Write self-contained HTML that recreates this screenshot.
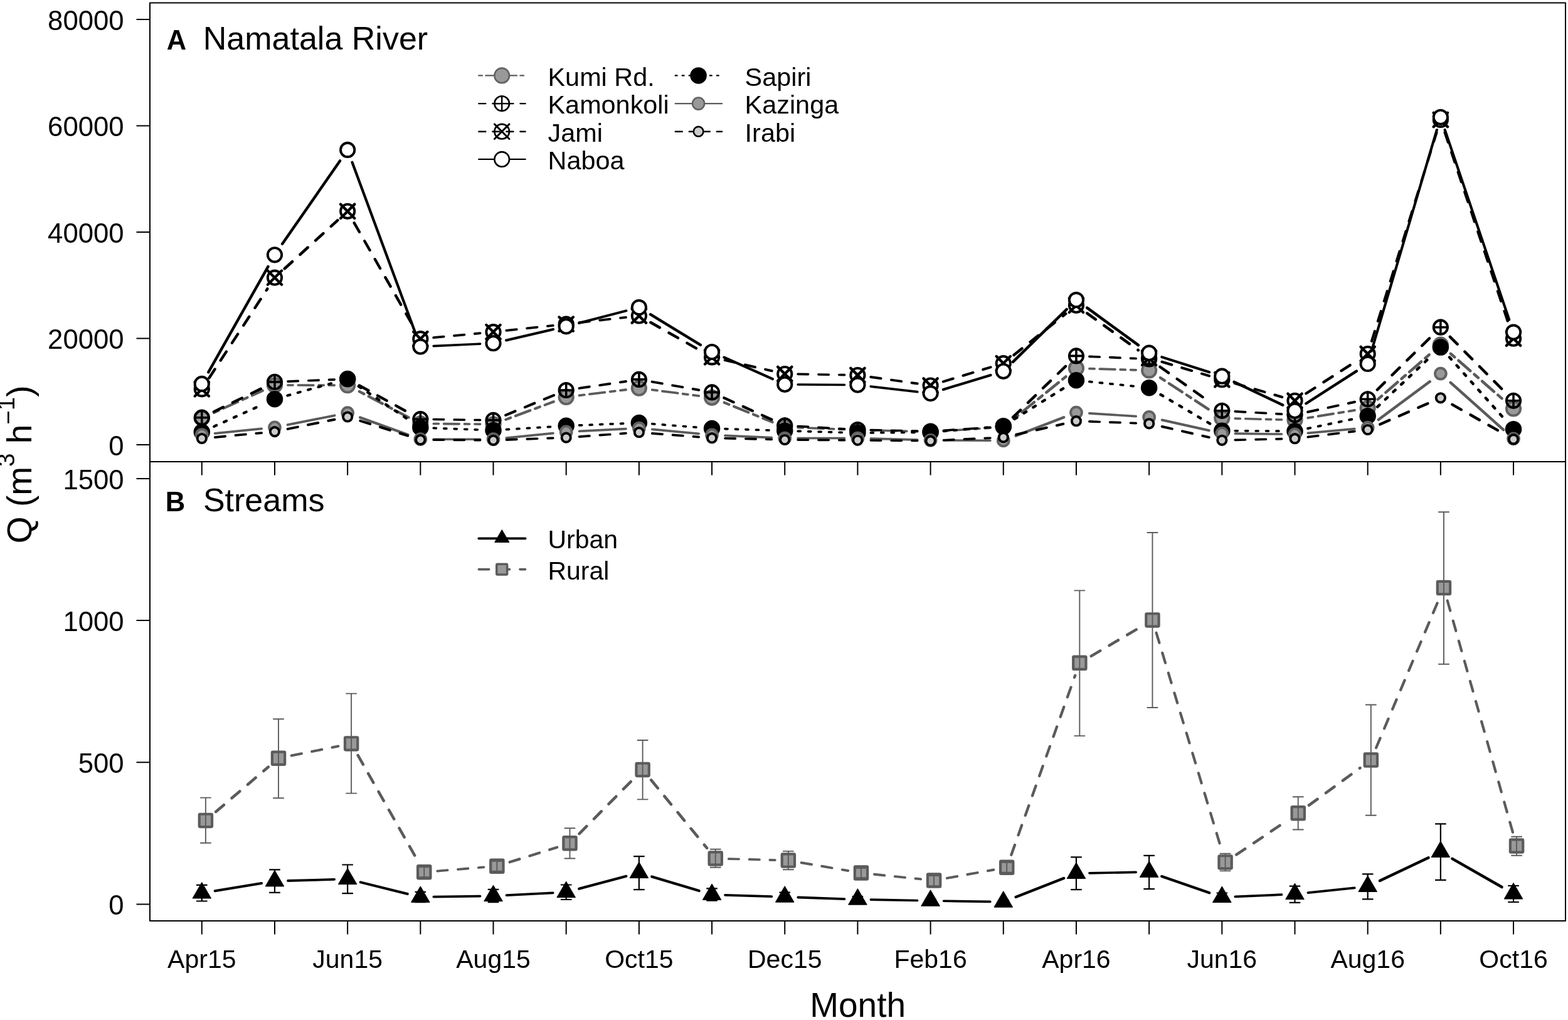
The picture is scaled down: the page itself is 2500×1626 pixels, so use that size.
<!DOCTYPE html>
<html lang="en"><head><meta charset="utf-8"><title>Discharge: Namatala River and streams</title>
<style>html,body{margin:0;padding:0;background:#fff}svg{display:block}text{font-family:'Liberation Sans', sans-serif;fill:#000}</style>
</head><body>
<svg width="2500" height="1626" viewBox="0 0 2500 1626">
<rect width="2500" height="1626" fill="#fff"/>
<g id="panelA">
<path d="M458.88 614.04L533.26 614.16M691.24 675.48L765.62 676.12" fill="none" stroke="#5b5b5b" stroke-width="3.6" stroke-linecap="round" stroke-dasharray="8.2 8.2 24.6 8.2"/>
<path d="M1388.31 685.86L1462.71 687.84M1969.21 667.14L2043.61 669.06" fill="none" stroke="#5b5b5b" stroke-width="3.6" stroke-linecap="round" stroke-dasharray="8.21 8.21 24.62 8.21"/>
<path d="M1272.17 681.61L1346.49 684.49M1736.9 587.69L1811.2 589.81" fill="none" stroke="#5b5b5b" stroke-width="3.7" stroke-linecap="round" stroke-dasharray="8.21 8.21 24.62 8.21"/>
<path d="M1504.51 687.03L1578.87 682.17" fill="none" stroke="#5b5b5b" stroke-width="3.7" stroke-linecap="round" stroke-dasharray="8.22 8.22 24.65 8.22"/>
<path d="M923.54 630.35L998.04 621.25M1039.7 621.41L1114.24 631.09" fill="none" stroke="#5b5b5b" stroke-width="3.8" stroke-linecap="round" stroke-dasharray="8.24 8.24 24.72 8.24"/>
<path d="M2085.27 666.2L2159.91 654" fill="none" stroke="#5b5b5b" stroke-width="3.9" stroke-linecap="round" stroke-dasharray="8.25 8.25 24.75 8.25"/>
<path d="M806.38 668.88L882.84 640.32" fill="none" stroke="#5b5b5b" stroke-width="4.2" stroke-linecap="round" stroke-dasharray="8.31 8.31 24.94 8.31"/>
<path d="M1154.71 641.75L1231.59 672.85" fill="none" stroke="#5b5b5b" stroke-width="4.2" stroke-linecap="round" stroke-dasharray="8.32 8.32 24.97 8.32"/>
<path d="M341.16 657.75L418.62 622.75M572.97 624.09L651.53 665.41" fill="none" stroke="#5b5b5b" stroke-width="4.3" stroke-linecap="round" stroke-dasharray="8.34 8.34 25.02 8.34"/>
<path d="M1849.95 602.08L1930.51 654.92" fill="none" stroke="#5b5b5b" stroke-width="4.4" stroke-linecap="round" stroke-dasharray="8.34 8.34 25.02 8.34"/>
<path d="M1616.4 667.4L1699.34 600.5M2196.8 636.6L2280.74 563.7M2312.92 563.76L2396.98 637.34" fill="none" stroke="#5b5b5b" stroke-width="4.5" stroke-linecap="round" stroke-dasharray="8.34 8.34 25.02 8.34"/>
<circle cx="321.8" cy="666.5" r="11.15" fill="#999999" stroke="#626262" stroke-width="3.9"/><circle cx="437.98" cy="614" r="11.15" fill="#999999" stroke="#626262" stroke-width="3.9"/><circle cx="554.16" cy="614.2" r="11.15" fill="#999999" stroke="#626262" stroke-width="3.9"/><circle cx="670.34" cy="675.3" r="11.15" fill="#999999" stroke="#626262" stroke-width="3.9"/><circle cx="786.52" cy="676.3" r="11.15" fill="#999999" stroke="#626262" stroke-width="3.9"/><circle cx="902.7" cy="632.9" r="11.15" fill="#999999" stroke="#626262" stroke-width="3.9"/><circle cx="1018.88" cy="618.7" r="11.15" fill="#999999" stroke="#626262" stroke-width="3.9"/><circle cx="1135.06" cy="633.8" r="11.15" fill="#999999" stroke="#626262" stroke-width="3.9"/><circle cx="1251.24" cy="680.8" r="11.15" fill="#999999" stroke="#626262" stroke-width="3.9"/><circle cx="1367.42" cy="685.3" r="11.15" fill="#999999" stroke="#626262" stroke-width="3.9"/><circle cx="1483.6" cy="688.4" r="11.15" fill="#999999" stroke="#626262" stroke-width="3.9"/><circle cx="1599.78" cy="680.8" r="11.15" fill="#999999" stroke="#626262" stroke-width="3.9"/><circle cx="1715.96" cy="587.1" r="11.15" fill="#999999" stroke="#626262" stroke-width="3.9"/><circle cx="1832.14" cy="590.4" r="11.15" fill="#999999" stroke="#626262" stroke-width="3.9"/><circle cx="1948.32" cy="666.6" r="11.15" fill="#999999" stroke="#626262" stroke-width="3.9"/><circle cx="2064.5" cy="669.6" r="11.15" fill="#999999" stroke="#626262" stroke-width="3.9"/><circle cx="2180.68" cy="650.6" r="11.15" fill="#999999" stroke="#626262" stroke-width="3.9"/><circle cx="2296.86" cy="549.7" r="11.15" fill="#999999" stroke="#626262" stroke-width="3.9"/><circle cx="2413.04" cy="651.4" r="11.15" fill="#999999" stroke="#626262" stroke-width="3.9"/>
<path d="M691.24 668.51L765.62 669.59M1388.31 685.47L1462.71 687.13" fill="none" stroke="#000" stroke-width="3.6" stroke-linecap="round" stroke-dasharray="16.42 16.42"/>
<path d="M458.91 608.05L533.23 605.05M1272.16 679.51L1346.5 683.79M1504.51 686.23L1578.87 681.37M1736.89 568.3L1811.21 571.5M1969.24 655.95L2043.58 660.05" fill="none" stroke="#000" stroke-width="3.7" stroke-linecap="round" stroke-dasharray="16.43 16.43"/>
<path d="M923.53 618.93L998.05 607.97" fill="none" stroke="#000" stroke-width="3.9" stroke-linecap="round" stroke-dasharray="16.5 16.5"/>
<path d="M1039.61 608.56L1114.33 621.74" fill="none" stroke="#000" stroke-width="3.9" stroke-linecap="round" stroke-dasharray="16.51 16.51"/>
<path d="M2085.13 656.78L2160.05 640.72" fill="none" stroke="#000" stroke-width="4" stroke-linecap="round" stroke-dasharray="16.53 16.53"/>
<path d="M806.12 661.82L883.1 630.08" fill="none" stroke="#000" stroke-width="4.2" stroke-linecap="round" stroke-dasharray="16.66 16.66"/>
<path d="M340.89 656.37L418.89 618.23M1154.4 634.21L1231.9 669.49" fill="none" stroke="#000" stroke-width="4.3" stroke-linecap="round" stroke-dasharray="16.68 16.68"/>
<path d="M572.82 614.48L651.68 657.92M1849.51 584.72L1930.95 642.48" fill="none" stroke="#000" stroke-width="4.4" stroke-linecap="round" stroke-dasharray="16.68 16.68"/>
<path d="M1615.11 665.14L1700.63 582.26M2195.88 621.31L2281.66 536.69M2311.9 536.86L2398 623.64" fill="none" stroke="#000" stroke-width="4.5" stroke-linecap="round" stroke-dasharray="16.68 16.68"/>
<circle cx="321.8" cy="665.7" r="11.15" fill="none" stroke="#000" stroke-width="3.9"/><path d="M310.65 665.7H332.95M321.8 654.55V676.85" stroke="#000" stroke-width="3.59" stroke-linecap="round" fill="none"/><circle cx="437.98" cy="608.9" r="11.15" fill="none" stroke="#000" stroke-width="3.9"/><path d="M426.83 608.9H449.13M437.98 597.75V620.05" stroke="#000" stroke-width="3.59" stroke-linecap="round" fill="none"/><circle cx="554.16" cy="604.2" r="11.15" fill="none" stroke="#000" stroke-width="3.9"/><path d="M543.01 604.2H565.31M554.16 593.05V615.35" stroke="#000" stroke-width="3.59" stroke-linecap="round" fill="none"/><circle cx="670.34" cy="668.2" r="11.15" fill="none" stroke="#000" stroke-width="3.9"/><path d="M659.19 668.2H681.49M670.34 657.05V679.35" stroke="#000" stroke-width="3.59" stroke-linecap="round" fill="none"/><circle cx="786.52" cy="669.9" r="11.15" fill="none" stroke="#000" stroke-width="3.9"/><path d="M775.37 669.9H797.67M786.52 658.75V681.05" stroke="#000" stroke-width="3.59" stroke-linecap="round" fill="none"/><circle cx="902.7" cy="622" r="11.15" fill="none" stroke="#000" stroke-width="3.9"/><path d="M891.55 622H913.85M902.7 610.85V633.15" stroke="#000" stroke-width="3.59" stroke-linecap="round" fill="none"/><circle cx="1018.88" cy="604.9" r="11.15" fill="none" stroke="#000" stroke-width="3.9"/><path d="M1007.73 604.9H1030.03M1018.88 593.75V616.05" stroke="#000" stroke-width="3.59" stroke-linecap="round" fill="none"/><circle cx="1135.06" cy="625.4" r="11.15" fill="none" stroke="#000" stroke-width="3.9"/><path d="M1123.91 625.4H1146.21M1135.06 614.25V636.55" stroke="#000" stroke-width="3.59" stroke-linecap="round" fill="none"/><circle cx="1251.24" cy="678.3" r="11.15" fill="none" stroke="#000" stroke-width="3.9"/><path d="M1240.09 678.3H1262.39M1251.24 667.15V689.45" stroke="#000" stroke-width="3.59" stroke-linecap="round" fill="none"/><circle cx="1367.42" cy="685" r="11.15" fill="none" stroke="#000" stroke-width="3.9"/><path d="M1356.27 685H1378.57M1367.42 673.85V696.15" stroke="#000" stroke-width="3.59" stroke-linecap="round" fill="none"/><circle cx="1483.6" cy="687.6" r="11.15" fill="none" stroke="#000" stroke-width="3.9"/><path d="M1472.45 687.6H1494.75M1483.6 676.45V698.75" stroke="#000" stroke-width="3.59" stroke-linecap="round" fill="none"/><circle cx="1599.78" cy="680" r="11.15" fill="none" stroke="#000" stroke-width="3.9"/><path d="M1588.63 680H1610.93M1599.78 668.85V691.15" stroke="#000" stroke-width="3.59" stroke-linecap="round" fill="none"/><circle cx="1715.96" cy="567.4" r="11.15" fill="none" stroke="#000" stroke-width="3.9"/><path d="M1704.81 567.4H1727.11M1715.96 556.25V578.55" stroke="#000" stroke-width="3.59" stroke-linecap="round" fill="none"/><circle cx="1832.14" cy="572.4" r="11.15" fill="none" stroke="#000" stroke-width="3.9"/><path d="M1820.99 572.4H1843.29M1832.14 561.25V583.55" stroke="#000" stroke-width="3.59" stroke-linecap="round" fill="none"/><circle cx="1948.32" cy="654.8" r="11.15" fill="none" stroke="#000" stroke-width="3.9"/><path d="M1937.17 654.8H1959.47M1948.32 643.65V665.95" stroke="#000" stroke-width="3.59" stroke-linecap="round" fill="none"/><circle cx="2064.5" cy="661.2" r="11.15" fill="none" stroke="#000" stroke-width="3.9"/><path d="M2053.35 661.2H2075.65M2064.5 650.05V672.35" stroke="#000" stroke-width="3.59" stroke-linecap="round" fill="none"/><circle cx="2180.68" cy="636.3" r="11.15" fill="none" stroke="#000" stroke-width="3.9"/><path d="M2169.53 636.3H2191.83M2180.68 625.15V647.45" stroke="#000" stroke-width="3.59" stroke-linecap="round" fill="none"/><circle cx="2296.86" cy="521.7" r="11.15" fill="none" stroke="#000" stroke-width="3.9"/><path d="M2285.71 521.7H2308.01M2296.86 510.55V532.85" stroke="#000" stroke-width="3.59" stroke-linecap="round" fill="none"/><circle cx="2413.04" cy="638.8" r="11.15" fill="none" stroke="#000" stroke-width="3.9"/><path d="M2401.89 638.8H2424.19M2413.04 627.65V649.95" stroke="#000" stroke-width="3.59" stroke-linecap="round" fill="none"/>
<path d="M1272.14 596.36L1346.52 597.64" fill="none" stroke="#000" stroke-width="3.6" stroke-linecap="round" stroke-dasharray="16.42 16.42"/>
<path d="M691.25 538.22L765.61 531.18M807.4 526.94L881.82 518.86M923.57 514.25L998.01 505.85" fill="none" stroke="#000" stroke-width="3.8" stroke-linecap="round" stroke-dasharray="16.47 16.47"/>
<path d="M1388.26 600.96L1462.76 611.54" fill="none" stroke="#000" stroke-width="3.9" stroke-linecap="round" stroke-dasharray="16.48 16.48"/>
<path d="M1155.63 574.11L1230.67 591.29" fill="none" stroke="#000" stroke-width="4" stroke-linecap="round" stroke-dasharray="16.55 16.55"/>
<path d="M1503.84 608.35L1579.54 585.35M1852.42 576.8L1928.04 599.2M1968.64 611.08L2044.18 632.92" fill="none" stroke="#000" stroke-width="4.1" stroke-linecap="round" stroke-dasharray="16.58 16.58"/>
<path d="M2186.97 543.81L2290.57 211.19M2303.55 211.07L2406.35 519.63" fill="none" stroke="#000" stroke-width="4.1" stroke-linecap="round" stroke-dasharray="16.68 16.68"/>
<path d="M333.46 602.47L426.32 460.43M564.72 355.3L659.78 521.7M1037.41 514.01L1116.53 558.89M2082.41 627.27L2162.77 575.53" fill="none" stroke="#000" stroke-width="4.4" stroke-linecap="round" stroke-dasharray="16.68 16.68"/>
<path d="M453.77 428.22L538.37 351.18M1616.49 565.91L1699.25 500.09M1733.26 499.31L1814.84 558.29" fill="none" stroke="#000" stroke-width="4.5" stroke-linecap="round" stroke-dasharray="16.68 16.68"/>
<circle cx="321.8" cy="620.3" r="11.15" fill="none" stroke="#000" stroke-width="3.9"/><path d="M310.65 609.15L332.95 631.45M310.65 631.45L332.95 609.15" stroke="#000" stroke-width="4.37" stroke-linecap="round" fill="none"/><circle cx="437.98" cy="442.6" r="11.15" fill="none" stroke="#000" stroke-width="3.9"/><path d="M426.83 431.45L449.13 453.75M426.83 453.75L449.13 431.45" stroke="#000" stroke-width="4.37" stroke-linecap="round" fill="none"/><circle cx="554.16" cy="336.8" r="11.15" fill="none" stroke="#000" stroke-width="3.9"/><path d="M543.01 325.65L565.31 347.95M543.01 347.95L565.31 325.65" stroke="#000" stroke-width="4.37" stroke-linecap="round" fill="none"/><circle cx="670.34" cy="540.2" r="11.15" fill="none" stroke="#000" stroke-width="3.9"/><path d="M659.19 529.05L681.49 551.35M659.19 551.35L681.49 529.05" stroke="#000" stroke-width="4.37" stroke-linecap="round" fill="none"/><circle cx="786.52" cy="529.2" r="11.15" fill="none" stroke="#000" stroke-width="3.9"/><path d="M775.37 518.05L797.67 540.35M775.37 540.35L797.67 518.05" stroke="#000" stroke-width="4.37" stroke-linecap="round" fill="none"/><circle cx="902.7" cy="516.6" r="11.15" fill="none" stroke="#000" stroke-width="3.9"/><path d="M891.55 505.45L913.85 527.75M891.55 527.75L913.85 505.45" stroke="#000" stroke-width="4.37" stroke-linecap="round" fill="none"/><circle cx="1018.88" cy="503.5" r="11.15" fill="none" stroke="#000" stroke-width="3.9"/><path d="M1007.73 492.35L1030.03 514.65M1007.73 514.65L1030.03 492.35" stroke="#000" stroke-width="4.37" stroke-linecap="round" fill="none"/><circle cx="1135.06" cy="569.4" r="11.15" fill="none" stroke="#000" stroke-width="3.9"/><path d="M1123.91 558.25L1146.21 580.55M1123.91 580.55L1146.21 558.25" stroke="#000" stroke-width="4.37" stroke-linecap="round" fill="none"/><circle cx="1251.24" cy="596" r="11.15" fill="none" stroke="#000" stroke-width="3.9"/><path d="M1240.09 584.85L1262.39 607.15M1240.09 607.15L1262.39 584.85" stroke="#000" stroke-width="4.37" stroke-linecap="round" fill="none"/><circle cx="1367.42" cy="598" r="11.15" fill="none" stroke="#000" stroke-width="3.9"/><path d="M1356.27 586.85L1378.57 609.15M1356.27 609.15L1378.57 586.85" stroke="#000" stroke-width="4.37" stroke-linecap="round" fill="none"/><circle cx="1483.6" cy="614.5" r="11.15" fill="none" stroke="#000" stroke-width="3.9"/><path d="M1472.45 603.35L1494.75 625.65M1472.45 625.65L1494.75 603.35" stroke="#000" stroke-width="4.37" stroke-linecap="round" fill="none"/><circle cx="1599.78" cy="579.2" r="11.15" fill="none" stroke="#000" stroke-width="3.9"/><path d="M1588.63 568.05L1610.93 590.35M1588.63 590.35L1610.93 568.05" stroke="#000" stroke-width="4.37" stroke-linecap="round" fill="none"/><circle cx="1715.96" cy="486.8" r="11.15" fill="none" stroke="#000" stroke-width="3.9"/><path d="M1704.81 475.65L1727.11 497.95M1704.81 497.95L1727.11 475.65" stroke="#000" stroke-width="4.37" stroke-linecap="round" fill="none"/><circle cx="1832.14" cy="570.8" r="11.15" fill="none" stroke="#000" stroke-width="3.9"/><path d="M1820.99 559.65L1843.29 581.95M1820.99 581.95L1843.29 559.65" stroke="#000" stroke-width="4.37" stroke-linecap="round" fill="none"/><circle cx="1948.32" cy="605.2" r="11.15" fill="none" stroke="#000" stroke-width="3.9"/><path d="M1937.17 594.05L1959.47 616.35M1937.17 616.35L1959.47 594.05" stroke="#000" stroke-width="4.37" stroke-linecap="round" fill="none"/><circle cx="2064.5" cy="638.8" r="11.15" fill="none" stroke="#000" stroke-width="3.9"/><path d="M2053.35 627.65L2075.65 649.95M2053.35 649.95L2075.65 627.65" stroke="#000" stroke-width="4.37" stroke-linecap="round" fill="none"/><circle cx="2180.68" cy="564" r="11.15" fill="none" stroke="#000" stroke-width="3.9"/><path d="M2169.53 552.85L2191.83 575.15M2169.53 575.15L2191.83 552.85" stroke="#000" stroke-width="4.37" stroke-linecap="round" fill="none"/><circle cx="2296.86" cy="191" r="11.15" fill="none" stroke="#000" stroke-width="3.9"/><path d="M2285.71 179.85L2308.01 202.15M2285.71 202.15L2308.01 179.85" stroke="#000" stroke-width="4.37" stroke-linecap="round" fill="none"/><circle cx="2413.04" cy="539.7" r="11.15" fill="none" stroke="#000" stroke-width="3.9"/><path d="M2401.89 528.55L2424.19 550.85M2401.89 550.85L2424.19 528.55" stroke="#000" stroke-width="4.37" stroke-linecap="round" fill="none"/>
<path d="M1272.14 612.94L1346.52 613.46" fill="none" stroke="#000" stroke-width="3.6" stroke-linecap="round"/>
<path d="M691.27 551.63L765.59 548.17" fill="none" stroke="#000" stroke-width="3.7" stroke-linecap="round"/>
<path d="M1388.28 616.02L1462.74 624.68" fill="none" stroke="#000" stroke-width="3.8" stroke-linecap="round"/>
<path d="M807.08 542.44L882.14 525.06M923.12 514.99L998.46 495.41" fill="none" stroke="#000" stroke-width="4" stroke-linecap="round"/>
<path d="M1503.84 620.95L1579.54 597.95M1852.29 569.12L1928.17 593.28M2186.67 559.72L2290.87 207.08M2303.65 206.83L2406.25 509.57" fill="none" stroke="#000" stroke-width="4.1" stroke-linecap="round"/>
<path d="M561.52 258.78L662.98 532.72" fill="none" stroke="#000" stroke-width="4.2" stroke-linecap="round"/>
<path d="M1154.47 569.65L1231.83 604.15M1967.52 608.81L2045.3 645.69" fill="none" stroke="#000" stroke-width="4.3" stroke-linecap="round"/>
<path d="M332.28 593.36L427.5 424.84M450.12 388.8L542.02 256.4M1037.06 501.2L1116.88 549.9M2082.41 643.27L2162.77 591.53" fill="none" stroke="#000" stroke-width="4.4" stroke-linecap="round"/>
<path d="M1615.04 576.87L1700.7 493.03M1733.22 490.67L1814.88 550.13" fill="none" stroke="#000" stroke-width="4.5" stroke-linecap="round"/>
<circle cx="321.8" cy="611.9" r="11.15" fill="#fff" stroke="#000" stroke-width="3.9"/><circle cx="437.98" cy="406.3" r="11.15" fill="#fff" stroke="#000" stroke-width="3.9"/><circle cx="554.16" cy="238.9" r="11.15" fill="#fff" stroke="#000" stroke-width="3.9"/><circle cx="670.34" cy="552.6" r="11.15" fill="#fff" stroke="#000" stroke-width="3.9"/><circle cx="786.52" cy="547.2" r="11.15" fill="#fff" stroke="#000" stroke-width="3.9"/><circle cx="902.7" cy="520.3" r="11.15" fill="#fff" stroke="#000" stroke-width="3.9"/><circle cx="1018.88" cy="490.1" r="11.15" fill="#fff" stroke="#000" stroke-width="3.9"/><circle cx="1135.06" cy="561" r="11.15" fill="#fff" stroke="#000" stroke-width="3.9"/><circle cx="1251.24" cy="612.8" r="11.15" fill="#fff" stroke="#000" stroke-width="3.9"/><circle cx="1367.42" cy="613.6" r="11.15" fill="#fff" stroke="#000" stroke-width="3.9"/><circle cx="1483.6" cy="627.1" r="11.15" fill="#fff" stroke="#000" stroke-width="3.9"/><circle cx="1599.78" cy="591.8" r="11.15" fill="#fff" stroke="#000" stroke-width="3.9"/><circle cx="1715.96" cy="478.1" r="11.15" fill="#fff" stroke="#000" stroke-width="3.9"/><circle cx="1832.14" cy="562.7" r="11.15" fill="#fff" stroke="#000" stroke-width="3.9"/><circle cx="1948.32" cy="599.7" r="11.15" fill="#fff" stroke="#000" stroke-width="3.9"/><circle cx="2064.5" cy="654.8" r="11.15" fill="#fff" stroke="#000" stroke-width="3.9"/><circle cx="2180.68" cy="580" r="11.15" fill="#fff" stroke="#000" stroke-width="3.9"/><circle cx="2296.86" cy="186.8" r="11.15" fill="#fff" stroke="#000" stroke-width="3.9"/><circle cx="2413.04" cy="529.6" r="11.15" fill="#fff" stroke="#000" stroke-width="3.9"/>
<path d="M1388.32 689.94L1462.7 689.36M1969.22 686.81L2043.6 687.19" fill="none" stroke="#000" stroke-width="3.6" stroke-linecap="round" stroke-dasharray="4.1 12.31"/>
<path d="M1156 683.67L1230.3 686.03M1272.18 687.31L1346.48 689.49" fill="none" stroke="#000" stroke-width="3.7" stroke-linecap="round" stroke-dasharray="4.12 12.35"/>
<path d="M691.28 682.46L765.58 685.14M923.63 677.95L997.95 674.95" fill="none" stroke="#000" stroke-width="3.7" stroke-linecap="round" stroke-dasharray="4.12 12.36"/>
<path d="M807.43 684.62L881.79 680.08" fill="none" stroke="#000" stroke-width="3.7" stroke-linecap="round" stroke-dasharray="4.13 12.4"/>
<path d="M1039.77 675.7L1114.17 681.4" fill="none" stroke="#000" stroke-width="3.7" stroke-linecap="round" stroke-dasharray="4.14 12.42"/>
<path d="M1504.52 687.4L1578.86 681" fill="none" stroke="#000" stroke-width="3.8" stroke-linecap="round" stroke-dasharray="4.15 12.44"/>
<path d="M1736.85 608.36L1811.25 616.04" fill="none" stroke="#000" stroke-width="3.8" stroke-linecap="round" stroke-dasharray="4.16 12.47"/>
<path d="M2085.16 683.01L2160.02 667.49" fill="none" stroke="#000" stroke-width="4" stroke-linecap="round" stroke-dasharray="4.21 12.64"/>
<path d="M458.36 630.55L533.78 609.65" fill="none" stroke="#000" stroke-width="4.1" stroke-linecap="round" stroke-dasharray="4.25 12.76"/>
<path d="M341.17 679.86L418.61 644.94" fill="none" stroke="#000" stroke-width="4.3" stroke-linecap="round" stroke-dasharray="4.35 13.04"/>
<path d="M571.87 615.84L652.63 669.86M1617.82 667.87L1697.92 617.53M1850.49 629.02L1929.97 675.88" fill="none" stroke="#000" stroke-width="4.4" stroke-linecap="round" stroke-dasharray="4.35 13.04"/>
<path d="M2196.21 648.55L2281.33 568.25M2311.05 569.55L2398.85 668.25" fill="none" stroke="#000" stroke-width="4.5" stroke-linecap="round" stroke-dasharray="4.35 13.04"/>
<circle cx="321.8" cy="688.6" r="11.3" fill="#000" stroke="#000" stroke-width="3.9"/><circle cx="437.98" cy="636.2" r="11.3" fill="#000" stroke="#000" stroke-width="3.9"/><circle cx="554.16" cy="604" r="11.3" fill="#000" stroke="#000" stroke-width="3.9"/><circle cx="670.34" cy="681.7" r="11.3" fill="#000" stroke="#000" stroke-width="3.9"/><circle cx="786.52" cy="685.9" r="11.3" fill="#000" stroke="#000" stroke-width="3.9"/><circle cx="902.7" cy="678.8" r="11.3" fill="#000" stroke="#000" stroke-width="3.9"/><circle cx="1018.88" cy="674.1" r="11.3" fill="#000" stroke="#000" stroke-width="3.9"/><circle cx="1135.06" cy="683" r="11.3" fill="#000" stroke="#000" stroke-width="3.9"/><circle cx="1251.24" cy="686.7" r="11.3" fill="#000" stroke="#000" stroke-width="3.9"/><circle cx="1367.42" cy="690.1" r="11.3" fill="#000" stroke="#000" stroke-width="3.9"/><circle cx="1483.6" cy="689.2" r="11.3" fill="#000" stroke="#000" stroke-width="3.9"/><circle cx="1599.78" cy="679.2" r="11.3" fill="#000" stroke="#000" stroke-width="3.9"/><circle cx="1715.96" cy="606.2" r="11.3" fill="#000" stroke="#000" stroke-width="3.9"/><circle cx="1832.14" cy="618.2" r="11.3" fill="#000" stroke="#000" stroke-width="3.9"/><circle cx="1948.32" cy="686.7" r="11.3" fill="#000" stroke="#000" stroke-width="3.9"/><circle cx="2064.5" cy="687.3" r="11.3" fill="#000" stroke="#000" stroke-width="3.9"/><circle cx="2180.68" cy="663.2" r="11.3" fill="#000" stroke="#000" stroke-width="3.9"/><circle cx="2296.86" cy="553.6" r="11.3" fill="#000" stroke="#000" stroke-width="3.9"/><circle cx="2413.04" cy="684.2" r="11.3" fill="#000" stroke="#000" stroke-width="3.9"/>
<path d="M691.24 700.2L765.62 700.2M1272.14 698.5L1346.52 698.5M1504.5 701.91L1578.88 702.29M1969.22 691.15L2043.6 692.05" fill="none" stroke="#5b5b5b" stroke-width="3.6" stroke-linecap="round"/>
<path d="M923.62 687.34L997.96 683.56M1155.99 694.32L1230.31 697.58M1388.36 699.09L1462.66 701.21M1736.87 658.91L1811.23 663.59" fill="none" stroke="#5b5b5b" stroke-width="3.7" stroke-linecap="round"/>
<path d="M342.69 690.9L417.09 683.4M807.41 698.08L881.81 690.52M1039.79 684.46L1114.15 691.44M2085.41 690.39L2159.77 683.61" fill="none" stroke="#5b5b5b" stroke-width="3.8" stroke-linecap="round"/>
<path d="M458.63 677.19L533.51 662.31" fill="none" stroke="#5b5b5b" stroke-width="3.9" stroke-linecap="round"/>
<path d="M1852.73 669.51L1927.73 686.29" fill="none" stroke="#5b5b5b" stroke-width="4" stroke-linecap="round"/>
<path d="M574.1 665.41L650.4 692.99M1619.56 694.77L1696.18 665.23" fill="none" stroke="#5b5b5b" stroke-width="4.2" stroke-linecap="round"/>
<path d="M2197.83 668.99L2279.71 608.31M2312.79 609.82L2397.11 685.08" fill="none" stroke="#5b5b5b" stroke-width="4.5" stroke-linecap="round"/>
<circle cx="321.8" cy="693" r="8.9" fill="#999999" stroke="#626262" stroke-width="3.9"/><circle cx="437.98" cy="681.3" r="8.9" fill="#999999" stroke="#626262" stroke-width="3.9"/><circle cx="554.16" cy="658.2" r="8.9" fill="#999999" stroke="#626262" stroke-width="3.9"/><circle cx="670.34" cy="700.2" r="8.9" fill="#999999" stroke="#626262" stroke-width="3.9"/><circle cx="786.52" cy="700.2" r="8.9" fill="#999999" stroke="#626262" stroke-width="3.9"/><circle cx="902.7" cy="688.4" r="8.9" fill="#999999" stroke="#626262" stroke-width="3.9"/><circle cx="1018.88" cy="682.5" r="8.9" fill="#999999" stroke="#626262" stroke-width="3.9"/><circle cx="1135.06" cy="693.4" r="8.9" fill="#999999" stroke="#626262" stroke-width="3.9"/><circle cx="1251.24" cy="698.5" r="8.9" fill="#999999" stroke="#626262" stroke-width="3.9"/><circle cx="1367.42" cy="698.5" r="8.9" fill="#999999" stroke="#626262" stroke-width="3.9"/><circle cx="1483.6" cy="701.8" r="8.9" fill="#999999" stroke="#626262" stroke-width="3.9"/><circle cx="1599.78" cy="702.4" r="8.9" fill="#999999" stroke="#626262" stroke-width="3.9"/><circle cx="1715.96" cy="657.6" r="8.9" fill="#999999" stroke="#626262" stroke-width="3.9"/><circle cx="1832.14" cy="664.9" r="8.9" fill="#999999" stroke="#626262" stroke-width="3.9"/><circle cx="1948.32" cy="690.9" r="8.9" fill="#999999" stroke="#626262" stroke-width="3.9"/><circle cx="2064.5" cy="692.3" r="8.9" fill="#999999" stroke="#626262" stroke-width="3.9"/><circle cx="2180.68" cy="681.7" r="8.9" fill="#999999" stroke="#626262" stroke-width="3.9"/><circle cx="2296.86" cy="595.6" r="8.9" fill="#999999" stroke="#626262" stroke-width="3.9"/><circle cx="2413.04" cy="699.3" r="8.9" fill="#999999" stroke="#626262" stroke-width="3.9"/>
<path d="M691.24 701.14L765.62 701.66M1272.14 701.14L1346.52 701.66M1388.32 701.96L1462.7 702.54" fill="none" stroke="#000" stroke-width="3.6" stroke-linecap="round" stroke-dasharray="16.4 16.4"/>
<path d="M1155.95 698.7L1230.35 700.5M1969.21 701.33L2043.61 699.67" fill="none" stroke="#000" stroke-width="3.6" stroke-linecap="round" stroke-dasharray="16.42 16.42"/>
<path d="M807.46 701.04L881.76 698.36M1736.9 671.94L1811.2 674.56" fill="none" stroke="#000" stroke-width="3.7" stroke-linecap="round" stroke-dasharray="16.42 16.42"/>
<path d="M1504.53 701.73L1578.85 698.27" fill="none" stroke="#000" stroke-width="3.7" stroke-linecap="round" stroke-dasharray="16.43 16.43"/>
<path d="M923.6 696.09L997.98 690.71M1039.77 690.82L1114.17 696.58" fill="none" stroke="#000" stroke-width="3.7" stroke-linecap="round" stroke-dasharray="16.45 16.45"/>
<path d="M342.71 697.04L417.07 690.06" fill="none" stroke="#000" stroke-width="3.8" stroke-linecap="round" stroke-dasharray="16.47 16.47"/>
<path d="M2085.34 696.65L2159.84 687.55" fill="none" stroke="#000" stroke-width="3.8" stroke-linecap="round" stroke-dasharray="16.48 16.48"/>
<path d="M458.66 683.9L533.48 668.7M1620.37 692.68L1695.37 675.82" fill="none" stroke="#000" stroke-width="4" stroke-linecap="round" stroke-dasharray="16.53 16.53"/>
<path d="M1852.71 679.99L1927.75 697.11" fill="none" stroke="#000" stroke-width="4" stroke-linecap="round" stroke-dasharray="16.55 16.55"/>
<path d="M574.34 670.84L650.16 694.66" fill="none" stroke="#000" stroke-width="4.1" stroke-linecap="round" stroke-dasharray="16.6 16.6"/>
<path d="M2200.16 676.5L2277.38 642.8" fill="none" stroke="#000" stroke-width="4.3" stroke-linecap="round" stroke-dasharray="16.66 16.66"/>
<path d="M2315.39 644.81L2394.51 689.69" fill="none" stroke="#000" stroke-width="4.4" stroke-linecap="round" stroke-dasharray="16.68 16.68"/>
<circle cx="321.8" cy="699" r="7.15" fill="#cccccc" stroke="#000" stroke-width="3.9"/><circle cx="437.98" cy="688.1" r="7.15" fill="#cccccc" stroke="#000" stroke-width="3.9"/><circle cx="554.16" cy="664.5" r="7.15" fill="#cccccc" stroke="#000" stroke-width="3.9"/><circle cx="670.34" cy="701" r="7.15" fill="#cccccc" stroke="#000" stroke-width="3.9"/><circle cx="786.52" cy="701.8" r="7.15" fill="#cccccc" stroke="#000" stroke-width="3.9"/><circle cx="902.7" cy="697.6" r="7.15" fill="#cccccc" stroke="#000" stroke-width="3.9"/><circle cx="1018.88" cy="689.2" r="7.15" fill="#cccccc" stroke="#000" stroke-width="3.9"/><circle cx="1135.06" cy="698.2" r="7.15" fill="#cccccc" stroke="#000" stroke-width="3.9"/><circle cx="1251.24" cy="701" r="7.15" fill="#cccccc" stroke="#000" stroke-width="3.9"/><circle cx="1367.42" cy="701.8" r="7.15" fill="#cccccc" stroke="#000" stroke-width="3.9"/><circle cx="1483.6" cy="702.7" r="7.15" fill="#cccccc" stroke="#000" stroke-width="3.9"/><circle cx="1599.78" cy="697.3" r="7.15" fill="#cccccc" stroke="#000" stroke-width="3.9"/><circle cx="1715.96" cy="671.2" r="7.15" fill="#cccccc" stroke="#000" stroke-width="3.9"/><circle cx="1832.14" cy="675.3" r="7.15" fill="#cccccc" stroke="#000" stroke-width="3.9"/><circle cx="1948.32" cy="701.8" r="7.15" fill="#cccccc" stroke="#000" stroke-width="3.9"/><circle cx="2064.5" cy="699.2" r="7.15" fill="#cccccc" stroke="#000" stroke-width="3.9"/><circle cx="2180.68" cy="685" r="7.15" fill="#cccccc" stroke="#000" stroke-width="3.9"/><circle cx="2296.86" cy="634.3" r="7.15" fill="#cccccc" stroke="#000" stroke-width="3.9"/><circle cx="2413.04" cy="700.2" r="7.15" fill="#cccccc" stroke="#000" stroke-width="3.9"/>
</g>
<g id="panelB">
<path d="M691.34 1429.69L765.52 1428.61M1388.42 1434.18L1462.6 1435.52M1504.6 1436.24L1578.78 1437.46M1736.96 1391.8L1811.14 1390.4" fill="none" stroke="#000" stroke-width="3.7" stroke-linecap="round"/>
<path d="M459.02 1404L533.12 1401.9M807.54 1427.21L881.68 1423.39M1156.1 1426.85L1230.2 1429.15M1272.28 1430.52L1346.38 1433.08M1969.35 1429.31L2043.47 1426.19" fill="none" stroke="#000" stroke-width="3.8" stroke-linecap="round"/>
<path d="M2085.49 1423.11L2159.69 1415.39" fill="none" stroke="#000" stroke-width="3.9" stroke-linecap="round"/>
<path d="M342.67 1420.27L417.11 1408.03" fill="none" stroke="#000" stroke-width="4" stroke-linecap="round"/>
<path d="M574.74 1406.38L649.76 1424.92M923.18 1416.83L998.4 1396.77" fill="none" stroke="#000" stroke-width="4.1" stroke-linecap="round"/>
<path d="M1039.23 1397.41L1114.71 1420.09" fill="none" stroke="#000" stroke-width="4.2" stroke-linecap="round"/>
<path d="M1619.61 1430.02L1696.13 1399.98M1852.27 1396.96L1928.19 1423.24" fill="none" stroke="#000" stroke-width="4.3" stroke-linecap="round"/>
<path d="M2199.98 1404.06L2277.56 1367.34" fill="none" stroke="#000" stroke-width="4.4" stroke-linecap="round"/>
<path d="M2315.43 1368.83L2394.47 1414.07" fill="none" stroke="#000" stroke-width="4.5" stroke-linecap="round"/>
<path d="M321.8 1406.55L336.59 1432.03L307.01 1432.03Z" fill="#000" stroke="#000" stroke-width="1" stroke-linejoin="round"/><path d="M437.98 1387.45L452.77 1412.93L423.19 1412.93Z" fill="#000" stroke="#000" stroke-width="1" stroke-linejoin="round"/><path d="M554.16 1384.15L568.95 1409.63L539.37 1409.63Z" fill="#000" stroke="#000" stroke-width="1" stroke-linejoin="round"/><path d="M670.34 1412.85L685.13 1438.33L655.55 1438.33Z" fill="#000" stroke="#000" stroke-width="1" stroke-linejoin="round"/><path d="M786.52 1411.15L801.31 1436.63L771.73 1436.63Z" fill="#000" stroke="#000" stroke-width="1" stroke-linejoin="round"/><path d="M902.7 1405.15L917.49 1430.63L887.91 1430.63Z" fill="#000" stroke="#000" stroke-width="1" stroke-linejoin="round"/><path d="M1018.88 1374.15L1033.67 1399.63L1004.09 1399.63Z" fill="#000" stroke="#000" stroke-width="1" stroke-linejoin="round"/><path d="M1135.06 1409.05L1149.85 1434.53L1120.27 1434.53Z" fill="#000" stroke="#000" stroke-width="1" stroke-linejoin="round"/><path d="M1251.24 1412.65L1266.03 1438.13L1236.45 1438.13Z" fill="#000" stroke="#000" stroke-width="1" stroke-linejoin="round"/><path d="M1367.42 1416.65L1382.21 1442.13L1352.63 1442.13Z" fill="#000" stroke="#000" stroke-width="1" stroke-linejoin="round"/><path d="M1483.6 1418.75L1498.39 1444.23L1468.81 1444.23Z" fill="#000" stroke="#000" stroke-width="1" stroke-linejoin="round"/><path d="M1599.78 1420.65L1614.57 1446.13L1584.99 1446.13Z" fill="#000" stroke="#000" stroke-width="1" stroke-linejoin="round"/><path d="M1715.96 1375.05L1730.75 1400.53L1701.17 1400.53Z" fill="#000" stroke="#000" stroke-width="1" stroke-linejoin="round"/><path d="M1832.14 1372.85L1846.93 1398.33L1817.35 1398.33Z" fill="#000" stroke="#000" stroke-width="1" stroke-linejoin="round"/><path d="M1948.32 1413.05L1963.11 1438.53L1933.53 1438.53Z" fill="#000" stroke="#000" stroke-width="1" stroke-linejoin="round"/><path d="M2064.5 1408.15L2079.29 1433.63L2049.71 1433.63Z" fill="#000" stroke="#000" stroke-width="1" stroke-linejoin="round"/><path d="M2180.68 1396.05L2195.47 1421.53L2165.89 1421.53Z" fill="#000" stroke="#000" stroke-width="1" stroke-linejoin="round"/><path d="M2296.86 1341.05L2311.65 1366.53L2282.07 1366.53Z" fill="#000" stroke="#000" stroke-width="1" stroke-linejoin="round"/><path d="M2413.04 1407.55L2427.83 1433.03L2398.25 1433.03Z" fill="#000" stroke="#000" stroke-width="1" stroke-linejoin="round"/>
<path d="M321.8 1410.9V1436.5M313 1410.9H330.6M313 1436.5H330.6" stroke="#000" stroke-width="2.2" fill="none"/>
<path d="M437.98 1386.3V1422.9M429.18 1386.3H446.78M429.18 1422.9H446.78" stroke="#000" stroke-width="2.2" fill="none"/>
<path d="M554.16 1378.5V1424.1M545.36 1378.5H562.96M545.36 1424.1H562.96" stroke="#000" stroke-width="2.2" fill="none"/>
<path d="M670.34 1421.8V1438.2M661.54 1421.8H679.14M661.54 1438.2H679.14" stroke="#000" stroke-width="2.2" fill="none"/>
<path d="M786.52 1417.9V1438.2M777.72 1417.9H795.32M777.72 1438.2H795.32" stroke="#000" stroke-width="2.2" fill="none"/>
<path d="M902.7 1410.5V1434M893.9 1410.5H911.5M893.9 1434H911.5" stroke="#000" stroke-width="2.2" fill="none"/>
<path d="M1018.88 1365.1V1418.1M1010.08 1365.1H1027.68M1010.08 1418.1H1027.68" stroke="#000" stroke-width="2.2" fill="none"/>
<path d="M1135.06 1416.4V1435.7M1126.26 1416.4H1143.86M1126.26 1435.7H1143.86" stroke="#000" stroke-width="2.2" fill="none"/>
<path d="M1251.24 1422.7V1437M1242.44 1422.7H1260.04M1242.44 1437H1260.04" stroke="#000" stroke-width="2.2" fill="none"/>
<path d="M1367.42 1429V1438.5M1358.62 1429H1376.22M1358.62 1438.5H1376.22" stroke="#000" stroke-width="2.2" fill="none"/>
<path d="M1483.6 1433V1439M1474.8 1433H1492.4M1474.8 1439H1492.4" stroke="#000" stroke-width="2.2" fill="none"/>
<path d="M1599.78 1435V1440M1590.98 1435H1608.58M1590.98 1440H1608.58" stroke="#000" stroke-width="2.2" fill="none"/>
<path d="M1715.96 1366.4V1418.1M1707.16 1366.4H1724.76M1707.16 1418.1H1724.76" stroke="#000" stroke-width="2.2" fill="none"/>
<path d="M1832.14 1363.9V1417.2M1823.34 1363.9H1840.94M1823.34 1417.2H1840.94" stroke="#000" stroke-width="2.2" fill="none"/>
<path d="M1948.32 1423.5V1437M1939.52 1423.5H1957.12M1939.52 1437H1957.12" stroke="#000" stroke-width="2.2" fill="none"/>
<path d="M2064.5 1412.6V1438.9M2055.7 1412.6H2073.3M2055.7 1438.9H2073.3" stroke="#000" stroke-width="2.2" fill="none"/>
<path d="M2180.68 1393.3V1433.4M2171.88 1393.3H2189.48M2171.88 1433.4H2189.48" stroke="#000" stroke-width="2.2" fill="none"/>
<path d="M2296.86 1313.4V1402.9M2288.06 1313.4H2305.66M2288.06 1402.9H2305.66" stroke="#000" stroke-width="2.2" fill="none"/>
<path d="M2413.04 1412V1438M2404.24 1412H2421.84M2404.24 1438H2421.84" stroke="#000" stroke-width="2.2" fill="none"/>
<path d="M1161.73 1369.06L1235.87 1371.04" fill="none" stroke="#5b5b5b" stroke-width="3.7" stroke-linecap="round" stroke-dasharray="16.42 16.42"/>
<path d="M697.24 1388.57L771.4 1382.43" fill="none" stroke="#5b5b5b" stroke-width="3.8" stroke-linecap="round" stroke-dasharray="16.45 16.45"/>
<path d="M1393.97 1393.77L1468.11 1401.43" fill="none" stroke="#5b5b5b" stroke-width="3.9" stroke-linecap="round" stroke-dasharray="16.47 16.47"/>
<path d="M1277.7 1375.19L1352.14 1388.01M1509.92 1399.87L1584.4 1386.53" fill="none" stroke="#5b5b5b" stroke-width="4" stroke-linecap="round" stroke-dasharray="16.51 16.51"/>
<path d="M464.76 1204.54L539.4 1189.56" fill="none" stroke="#5b5b5b" stroke-width="4" stroke-linecap="round" stroke-dasharray="16.53 16.53"/>
<path d="M812.66 1374.34L888.22 1350.66" fill="none" stroke="#5b5b5b" stroke-width="4.2" stroke-linecap="round" stroke-dasharray="16.6 16.6"/>
<path d="M1843.58 1008.75L1947.46 1354.05M2307.71 957.45L2412.29 1328.05" fill="none" stroke="#5b5b5b" stroke-width="4.2" stroke-linecap="round" stroke-dasharray="16.68 16.68"/>
<path d="M1612.37 1362.73L1714.19 1076.77M2194.12 1191.98L2293.64 956.62" fill="none" stroke="#5b5b5b" stroke-width="4.3" stroke-linecap="round" stroke-dasharray="16.68 16.68"/>
<path d="M570.69 1204.02L665.71 1371.68M1739.79 1045.85L1819.01 999.25M1971.34 1362.46L2051.94 1308.24" fill="none" stroke="#5b5b5b" stroke-width="4.5" stroke-linecap="round" stroke-dasharray="16.68 16.68"/>
<path d="M344.21 1293.97L427.71 1222.63M923.58 1329.05L1009.54 1242.15M1038.22 1243.49L1127.14 1351.91M2087.03 1283.66L2168.49 1224.24" fill="none" stroke="#5b5b5b" stroke-width="4.6" stroke-linecap="round" stroke-dasharray="16.68 16.68"/>
<rect x="317.75" y="1297.75" width="20.3" height="20.3" rx="1.2" fill="#999999" stroke="#5b5b5b" stroke-width="4.2" stroke-linejoin="round"/><rect x="433.87" y="1198.55" width="20.3" height="20.3" rx="1.2" fill="#999999" stroke="#5b5b5b" stroke-width="4.2" stroke-linejoin="round"/><rect x="549.99" y="1175.25" width="20.3" height="20.3" rx="1.2" fill="#999999" stroke="#5b5b5b" stroke-width="4.2" stroke-linejoin="round"/><rect x="666.11" y="1380.15" width="20.3" height="20.3" rx="1.2" fill="#999999" stroke="#5b5b5b" stroke-width="4.2" stroke-linejoin="round"/><rect x="782.23" y="1370.55" width="20.3" height="20.3" rx="1.2" fill="#999999" stroke="#5b5b5b" stroke-width="4.2" stroke-linejoin="round"/><rect x="898.35" y="1334.15" width="20.3" height="20.3" rx="1.2" fill="#999999" stroke="#5b5b5b" stroke-width="4.2" stroke-linejoin="round"/><rect x="1014.47" y="1216.75" width="20.3" height="20.3" rx="1.2" fill="#999999" stroke="#5b5b5b" stroke-width="4.2" stroke-linejoin="round"/><rect x="1130.59" y="1358.35" width="20.3" height="20.3" rx="1.2" fill="#999999" stroke="#5b5b5b" stroke-width="4.2" stroke-linejoin="round"/><rect x="1246.71" y="1361.45" width="20.3" height="20.3" rx="1.2" fill="#999999" stroke="#5b5b5b" stroke-width="4.2" stroke-linejoin="round"/><rect x="1362.83" y="1381.45" width="20.3" height="20.3" rx="1.2" fill="#999999" stroke="#5b5b5b" stroke-width="4.2" stroke-linejoin="round"/><rect x="1478.95" y="1393.45" width="20.3" height="20.3" rx="1.2" fill="#999999" stroke="#5b5b5b" stroke-width="4.2" stroke-linejoin="round"/><rect x="1595.07" y="1372.65" width="20.3" height="20.3" rx="1.2" fill="#999999" stroke="#5b5b5b" stroke-width="4.2" stroke-linejoin="round"/><rect x="1711.19" y="1046.55" width="20.3" height="20.3" rx="1.2" fill="#999999" stroke="#5b5b5b" stroke-width="4.2" stroke-linejoin="round"/><rect x="1827.31" y="978.25" width="20.3" height="20.3" rx="1.2" fill="#999999" stroke="#5b5b5b" stroke-width="4.2" stroke-linejoin="round"/><rect x="1943.43" y="1364.25" width="20.3" height="20.3" rx="1.2" fill="#999999" stroke="#5b5b5b" stroke-width="4.2" stroke-linejoin="round"/><rect x="2059.55" y="1286.15" width="20.3" height="20.3" rx="1.2" fill="#999999" stroke="#5b5b5b" stroke-width="4.2" stroke-linejoin="round"/><rect x="2175.67" y="1201.45" width="20.3" height="20.3" rx="1.2" fill="#999999" stroke="#5b5b5b" stroke-width="4.2" stroke-linejoin="round"/><rect x="2291.79" y="926.85" width="20.3" height="20.3" rx="1.2" fill="#999999" stroke="#5b5b5b" stroke-width="4.2" stroke-linejoin="round"/><rect x="2407.91" y="1338.35" width="20.3" height="20.3" rx="1.2" fill="#999999" stroke="#5b5b5b" stroke-width="4.2" stroke-linejoin="round"/>
<path d="M327.9 1271.6V1343.8M319.1 1271.6H336.7M319.1 1343.8H336.7" stroke="#5b5b5b" stroke-width="1.9" fill="none"/>
<path d="M444.02 1146.3V1272.2M435.22 1146.3H452.82M435.22 1272.2H452.82" stroke="#5b5b5b" stroke-width="1.9" fill="none"/>
<path d="M560.14 1105.6V1264.6M551.34 1105.6H568.94M551.34 1264.6H568.94" stroke="#5b5b5b" stroke-width="1.9" fill="none"/>
<path d="M676.26 1382.3V1398.3M667.46 1382.3H685.06M667.46 1398.3H685.06" stroke="#5b5b5b" stroke-width="1.9" fill="none"/>
<path d="M792.38 1372.7V1388.7M783.58 1372.7H801.18M783.58 1388.7H801.18" stroke="#5b5b5b" stroke-width="1.9" fill="none"/>
<path d="M908.5 1320.2V1368.5M899.7 1320.2H917.3M899.7 1368.5H917.3" stroke="#5b5b5b" stroke-width="1.9" fill="none"/>
<path d="M1024.62 1180V1274.4M1015.82 1180H1033.42M1015.82 1274.4H1033.42" stroke="#5b5b5b" stroke-width="1.9" fill="none"/>
<path d="M1140.74 1353.8V1382.8M1131.94 1353.8H1149.54M1131.94 1382.8H1149.54" stroke="#5b5b5b" stroke-width="1.9" fill="none"/>
<path d="M1256.86 1356.9V1386.3M1248.06 1356.9H1265.66M1248.06 1386.3H1265.66" stroke="#5b5b5b" stroke-width="1.9" fill="none"/>
<path d="M1372.98 1384.1V1399.1M1364.18 1384.1H1381.78M1364.18 1399.1H1381.78" stroke="#5b5b5b" stroke-width="1.9" fill="none"/>
<path d="M1489.1 1396V1412.1M1480.3 1396H1497.9M1480.3 1412.1H1497.9" stroke="#5b5b5b" stroke-width="1.9" fill="none"/>
<path d="M1605.22 1374.8V1390.8M1596.42 1374.8H1614.02M1596.42 1390.8H1614.02" stroke="#5b5b5b" stroke-width="1.9" fill="none"/>
<path d="M1721.34 941.4V1173.1M1712.54 941.4H1730.14M1712.54 1173.1H1730.14" stroke="#5b5b5b" stroke-width="1.9" fill="none"/>
<path d="M1837.46 849V1128M1828.66 849H1846.26M1828.66 1128H1846.26" stroke="#5b5b5b" stroke-width="1.9" fill="none"/>
<path d="M1953.58 1360.7V1388.4M1944.78 1360.7H1962.38M1944.78 1388.4H1962.38" stroke="#5b5b5b" stroke-width="1.9" fill="none"/>
<path d="M2069.7 1270.2V1322.5M2060.9 1270.2H2078.5M2060.9 1322.5H2078.5" stroke="#5b5b5b" stroke-width="1.9" fill="none"/>
<path d="M2185.82 1123.5V1299.8M2177.02 1123.5H2194.62M2177.02 1299.8H2194.62" stroke="#5b5b5b" stroke-width="1.9" fill="none"/>
<path d="M2301.94 816.2V1058.8M2293.14 816.2H2310.74M2293.14 1058.8H2310.74" stroke="#5b5b5b" stroke-width="1.9" fill="none"/>
<path d="M2418.06 1333.8V1363.7M2409.26 1333.8H2426.86M2409.26 1363.7H2426.86" stroke="#5b5b5b" stroke-width="1.9" fill="none"/>
</g>
<g id="axes" stroke="#000" stroke-width="2" fill="none" stroke-linejoin="round">
<rect x="239" y="4.4" width="2257" height="1463.6"/>
<path d="M239 735.9H2496"/>
<path d="M239 31H217.5M239 200.5H217.5M239 370H217.5M239 539.5H217.5M239 709H217.5M239 763H217.5M239 989.1H217.5M239 1215.3H217.5M239 1441.4H217.5"/>
<path d="M321.8 1468V1489.5M437.98 1468V1489.5M554.16 1468V1489.5M670.34 1468V1489.5M786.52 1468V1489.5M902.7 1468V1489.5M1018.88 1468V1489.5M1135.06 1468V1489.5M1251.24 1468V1489.5M1367.42 1468V1489.5M1483.6 1468V1489.5M1599.78 1468V1489.5M1715.96 1468V1489.5M1832.14 1468V1489.5M1948.32 1468V1489.5M2064.5 1468V1489.5M2180.68 1468V1489.5M2296.86 1468V1489.5M2413.04 1468V1489.5"/>
<path d="M321.8 735.9V757.4M437.98 735.9V757.4M554.16 735.9V757.4M670.34 735.9V757.4M786.52 735.9V757.4M902.7 735.9V757.4M1018.88 735.9V757.4M1135.06 735.9V757.4M1251.24 735.9V757.4M1367.42 735.9V757.4M1483.6 735.9V757.4M1599.78 735.9V757.4M1715.96 735.9V757.4M1832.14 735.9V757.4M1948.32 735.9V757.4M2064.5 735.9V757.4M2180.68 735.9V757.4M2296.86 735.9V757.4M2413.04 735.9V757.4"/>
</g>
<g id="ticklabels">
<text x="197.6" y="47.9" font-size="43.7" text-anchor="end">80000</text>
<text x="197.6" y="217.4" font-size="43.7" text-anchor="end">60000</text>
<text x="197.6" y="386.9" font-size="43.7" text-anchor="end">40000</text>
<text x="197.6" y="556.4" font-size="43.7" text-anchor="end">20000</text>
<text x="197.6" y="725.9" font-size="43.7" text-anchor="end">0</text>
<text x="197.6" y="779.9" font-size="43.7" text-anchor="end">1500</text>
<text x="197.6" y="1006" font-size="43.7" text-anchor="end">1000</text>
<text x="197.6" y="1232.2" font-size="43.7" text-anchor="end">500</text>
<text x="197.6" y="1458.3" font-size="43.7" text-anchor="end">0</text>
<text x="321.8" y="1542.7" font-size="41" text-anchor="middle">Apr15</text>
<text x="554.16" y="1542.7" font-size="41" text-anchor="middle">Jun15</text>
<text x="786.52" y="1542.7" font-size="41" text-anchor="middle">Aug15</text>
<text x="1018.88" y="1542.7" font-size="41" text-anchor="middle">Oct15</text>
<text x="1251.24" y="1542.7" font-size="41" text-anchor="middle">Dec15</text>
<text x="1483.6" y="1542.7" font-size="41" text-anchor="middle">Feb16</text>
<text x="1715.96" y="1542.7" font-size="41" text-anchor="middle">Apr16</text>
<text x="1948.32" y="1542.7" font-size="41" text-anchor="middle">Jun16</text>
<text x="2180.68" y="1542.7" font-size="41" text-anchor="middle">Aug16</text>
<text x="2413.04" y="1542.7" font-size="41" text-anchor="middle">Oct16</text>
</g>
<g id="titles">
<text x="265.8" y="78.8" font-size="43.5" font-weight="bold">A</text>
<text x="323.8" y="78.8" font-size="52">Namatala River</text>
<text x="263.8" y="814.5" font-size="43.5" font-weight="bold">B</text>
<text x="323.9" y="814.5" font-size="52">Streams</text>
<text x="1367.6" y="1620.9" font-size="55" text-anchor="middle">Month</text>
<text transform="translate(50.2 740.3) rotate(-90)" font-size="55" text-anchor="middle">Q (m<tspan font-size="38.5" dy="-27">3</tspan><tspan dy="27"> h</tspan><tspan font-size="38.5" dy="-24.5">−</tspan><tspan font-size="38.5" dy="-2.5">1</tspan><tspan dy="27">)</tspan></text>
</g>
<g id="legendA">
<path d="M763.35 120.4H837.55" fill="none" stroke="#5b5b5b" stroke-width="2.4" stroke-linecap="round" stroke-dasharray="5.51 5.51 16.54 5.51"/>
<circle cx="800.2" cy="120.4" r="11.8" fill="#999999" stroke="#626262" stroke-width="2.6"/>
<text x="873.5" y="136.6" font-size="41.4">Kumi Rd.</text>
<path d="M763.35 165.1H837.55" fill="none" stroke="#000" stroke-width="2.4" stroke-linecap="round" stroke-dasharray="11.02 11.02"/>
<circle cx="800.2" cy="165.1" r="11.8" fill="none" stroke="#000" stroke-width="2.6"/><path d="M788.4 165.1H812M800.2 153.3V176.9" stroke="#000" stroke-width="2.39" stroke-linecap="round" fill="none"/>
<text x="873.5" y="181.3" font-size="41.4">Kamonkoli</text>
<path d="M763.35 209.7H837.55" fill="none" stroke="#000" stroke-width="2.4" stroke-linecap="round" stroke-dasharray="11.02 11.02"/>
<circle cx="800.2" cy="209.7" r="11.8" fill="none" stroke="#000" stroke-width="2.6"/><path d="M788.4 197.9L812 221.5M788.4 221.5L812 197.9" stroke="#000" stroke-width="2.91" stroke-linecap="round" fill="none"/>
<text x="873.5" y="225.9" font-size="41.4">Jami</text>
<path d="M763.35 253.9H837.55" fill="none" stroke="#000" stroke-width="2.4" stroke-linecap="round"/>
<circle cx="800.2" cy="253.9" r="11.8" fill="#fff" stroke="#000" stroke-width="2.6"/>
<text x="873.5" y="270.1" font-size="41.4">Naboa</text>
<path d="M1076.75 120.4H1151.05" fill="none" stroke="#000" stroke-width="2.4" stroke-linecap="round" stroke-dasharray="2.76 8.27"/>
<circle cx="1113.6" cy="120.4" r="11.95" fill="#000" stroke="#000" stroke-width="2.6"/>
<text x="1187.6" y="136.6" font-size="41.4">Sapiri</text>
<path d="M1076.75 165.1H1151.05" fill="none" stroke="#5b5b5b" stroke-width="2.4" stroke-linecap="round"/>
<circle cx="1113.6" cy="165.1" r="9.55" fill="#999999" stroke="#626262" stroke-width="2.6"/>
<text x="1187.6" y="181.3" font-size="41.4">Kazinga</text>
<path d="M1076.75 209.7H1151.05" fill="none" stroke="#000" stroke-width="2.4" stroke-linecap="round" stroke-dasharray="11.02 11.02"/>
<circle cx="1113.6" cy="209.7" r="7.8" fill="#cccccc" stroke="#000" stroke-width="2.6"/>
<text x="1187.6" y="225.9" font-size="41.4">Irabi</text>
</g>
<g id="legendB">
<path d="M763.35 858.3H837.55" fill="none" stroke="#000" stroke-width="3.7" stroke-linecap="round"/>
<path d="M800.3 844.56L811.88 864.47L788.72 864.47Z" fill="#000" stroke="#000" stroke-width="1" stroke-linejoin="round"/>
<text x="873.4" y="873.6" font-size="41">Urban</text>
<path d="M763.35 907.6H837.55" fill="none" stroke="#5b5b5b" stroke-width="3.6" stroke-linecap="round" stroke-dasharray="16.4 16.4"/>
<rect x="791.78" y="899.18" width="16.85" height="16.85" rx="1.2" fill="#999999" stroke="#5b5b5b" stroke-width="3.49" stroke-linejoin="round"/>
<text x="873.4" y="923.7" font-size="41">Rural</text>
</g>
</svg>
</body></html>
